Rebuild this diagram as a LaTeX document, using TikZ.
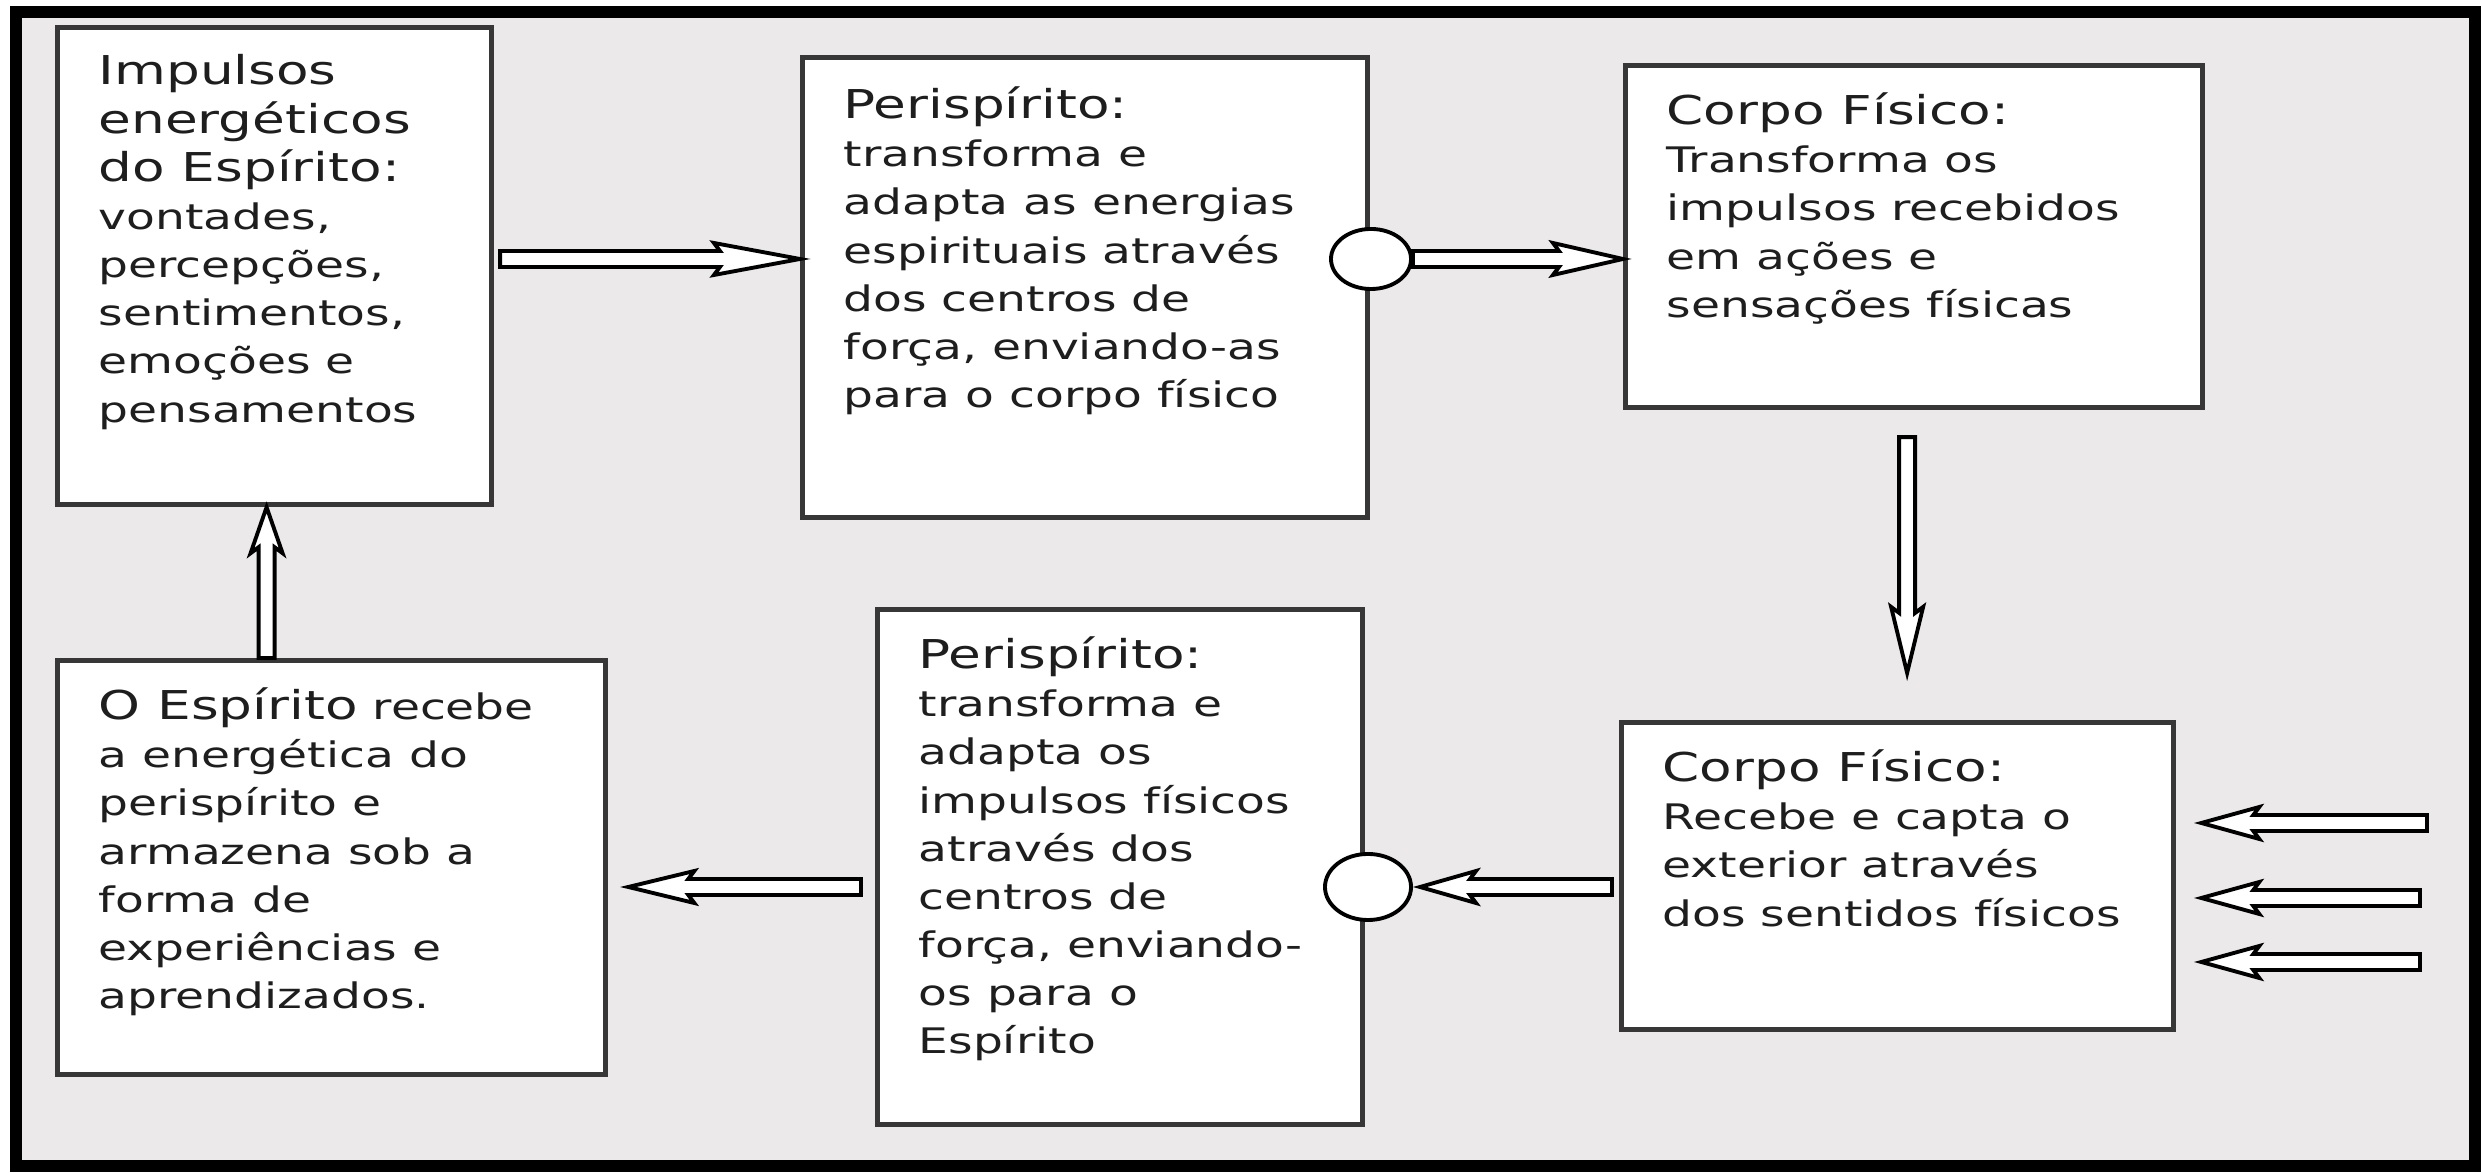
\documentclass[tikz,border=0pt]{standalone}
\usepackage{fontspec}
\setmainfont[FakeStretch=1.34]{DejaVu Sans}
\usetikzlibrary{calc,shapes.geometric}
\definecolor{fundo}{RGB}{236,233,234}
\definecolor{borda}{RGB}{55,55,55}
\definecolor{letra}{RGB}{30,30,30}
\newcommand\titulo{\fontsize{11.3}{13.7}\selectfont}
\tikzset{
  caixa/.style = {draw=borda, fill=white, line width=1.4pt,
    anchor=north west, inner sep=0pt},
  escrita/.style = {anchor=north west, align=left, inner sep=0pt,
    text=letra, font=\fontsize{10}{13.7}\selectfont,
    execute at begin node={\rule{0pt}{9pt}}},
  centro/.style = {ellipse, draw=black, fill=white, line width=1.1pt,
    minimum width=0.8cm, minimum height=0.6cm, inner sep=0pt},
  ponta/.store in=\ponta, ponta=0.6cm,
  folgaa/.store in=\folgaa, folgaa=0pt,
  folgab/.store in=\folgab, folgab=0pt,
  oca/.style = {draw=black, fill=white, line width=1.1pt,
    to path={let \p1=($(\tikztostart)!\folgaa!(\tikztotarget)$),
      \p2=($(\tikztotarget)!\folgab!(\tikztostart)$),
      \p3=($(\p2)!\ponta!(\p1)$),
      \p4=($(\p2)!\ponta+0.06cm!(\p1)$) in
      ($(\p1)!0.08cm!90:(\p2)$) -- ($(\p3)!0.08cm!90:(\p2)$)
      -- ($(\p4)!0.16cm!90:(\p2)$) -- (\p2)
      -- ($(\p4)!0.16cm!-90:(\p2)$) -- ($(\p3)!0.08cm!-90:(\p2)$)
      -- ($(\p1)!0.08cm!-90:(\p2)$) -- cycle}}
}

\begin{document}
\begin{tikzpicture}[x=0.01cm, y=-0.01cm]
  \useasboundingbox (0,0) rectangle (2481,1174);
  \fill[white] (0,0) rectangle (2481,1174);
  \draw[line width=0.12cm, fill=fundo] (16,12) rectangle (2475,1166);
  % caixas
  \node[caixa, minimum width=4.34cm, minimum height=4.77cm] (impulsos) at (55,25) {};
  \node[caixa, minimum width=5.65cm, minimum height=4.60cm] (perisup) at (800,55) {};
  \node[caixa, minimum width=5.77cm, minimum height=3.42cm] (corposup) at (1623,63) {};
  \node[caixa, minimum width=5.48cm, minimum height=4.14cm] (espirito) at (55,658) {};
  \node[caixa, minimum width=4.85cm, minimum height=5.15cm] (periinf) at (875,607) {};
  \node[caixa, minimum width=5.52cm, minimum height=3.07cm] (corpoinf) at (1619,720) {};
  % textos
  \node[escrita] (timpulsos) at ($(impulsos.north west)+(43,29)$)
    {{\titulo Impulsos}\\{\titulo energéticos}\\{\titulo do Espírito:}\\vontades,\\percepções,\\sentimentos,\\emoções e\\pensamentos};
  \node[escrita] (tperisup) at ($(perisup.north west)+(43,31)$)
    {{\titulo Perispírito:}\\transforma e\\adapta as energias\\espirituais através\\dos centros de\\força, enviando-as\\para o corpo físico};
  \node[escrita] (tcorposup) at ($(corposup.north west)+(43,29)$)
    {{\titulo Corpo Físico:}\\Transforma os\\impulsos recebidos\\em ações e\\sensações físicas};
  \node[escrita] (tespirito) at ($(espirito.north west)+(43,29)$)
    {{\titulo O Espírito} recebe\\a energética do\\perispírito e\\armazena sob a\\forma de\\experiências e\\aprendizados.};
  \node[escrita] (tperiinf) at ($(periinf.north west)+(43,29)$)
    {{\titulo Perispírito:}\\transforma e\\adapta os\\impulsos físicos\\através dos\\centros de\\força, enviando-\\os para o\\Espírito};
  \node[escrita] (tcorpoinf) at ($(corpoinf.north west)+(43,29)$)
    {{\titulo Corpo Físico:}\\Recebe e capta o\\exterior através\\dos sentidos físicos};
  % centros de forca
  \node[centro] (centrosup) at (1371,259) {};
  \node[centro, minimum width=0.86cm, minimum height=0.66cm] (centroinf) at (1368,887) {};
  % setas
  \draw[oca, ponta=0.8cm, folgaa=0.06cm] (impulsos.east |- centrosup) to (perisup.west |- centrosup);
  \draw[oca, ponta=0.64cm] (centrosup.east) to (corposup.west |- centrosup);
  \draw[oca, ponta=0.6cm, folgaa=0.27cm, folgab=0.47cm] ([xshift=-0.07cm]corposup.south) to ([xshift=-0.07cm]corpoinf.north -| corposup.south);
  \draw[oca, ponta=0.5cm, folgaa=0.07cm, folgab=0.07cm] (corpoinf.west |- centroinf) to (centroinf.east);
  \draw[oca, ponta=0.6cm, folgaa=0.14cm, folgab=0.2cm] (periinf.west |- centroinf) to (espirito.east |- centroinf);
  \draw[oca, ponta=0.4cm] ([xshift=-0.08cm]impulsos.south |- espirito.north) to ([xshift=-0.08cm]impulsos.south);
  \coordinate (fora1) at (2427,823);
  \coordinate (fora2) at (2420,898);
  \coordinate (fora3) at (2420,962);
  \draw[oca, ponta=0.52cm, folgab=0.25cm] (fora1) to (corpoinf.east |- fora1);
  \draw[oca, ponta=0.52cm, folgab=0.25cm] (fora2) to (corpoinf.east |- fora2);
  \draw[oca, ponta=0.52cm, folgab=0.25cm] (fora3) to (corpoinf.east |- fora3);
\end{tikzpicture}
\end{document}
